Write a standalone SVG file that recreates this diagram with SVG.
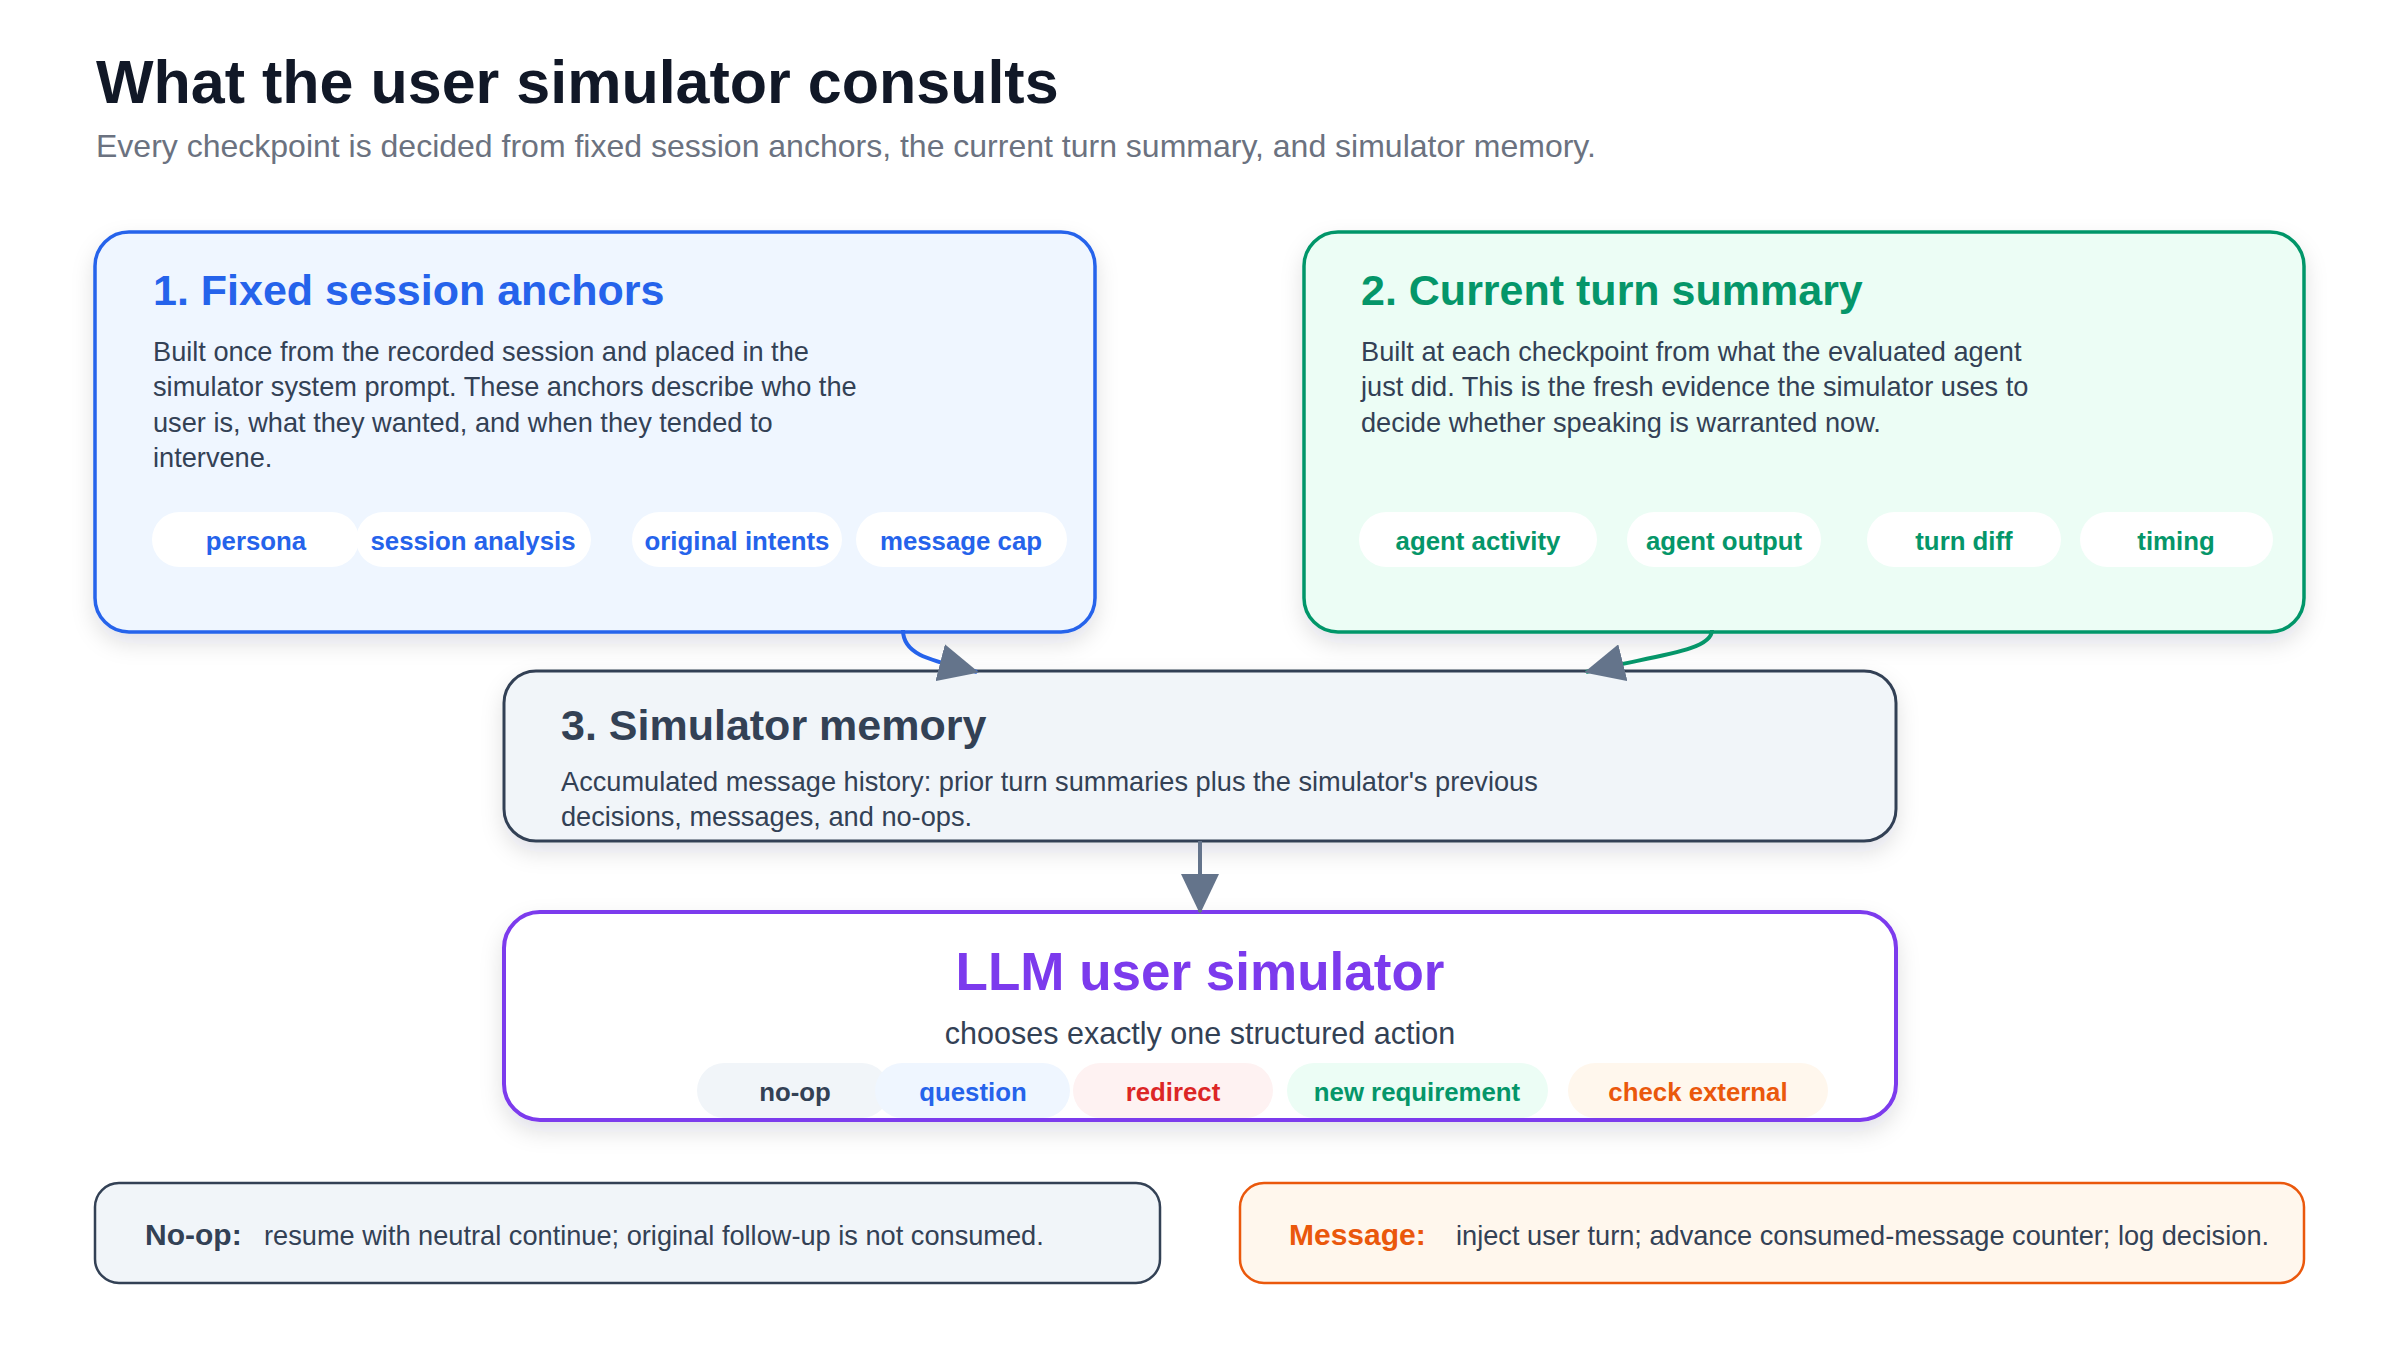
<svg xmlns="http://www.w3.org/2000/svg" width="2400" height="1360" viewBox="0 0 2400 1360">
  <defs>
    <filter id="shadow" x="-10%" y="-20%" width="120%" height="150%">
      <feDropShadow dx="0" dy="10" stdDeviation="11" flood-color="#0f172a" flood-opacity="0.12"/>
    </filter>
    <marker id="arrow" markerUnits="userSpaceOnUse" markerWidth="40" markerHeight="38" refX="38" refY="19" orient="auto">
      <path d="M0,0 L40,19 L0,38 Z" fill="#64748b"/>
    </marker>
    <style>
      text { font-family: "Liberation Sans", Arial, Helvetica, sans-serif; }
      .title { font-size: 61px; font-weight: 700; fill: #111827; }
      .subtitle { font-size: 32px; fill: #6b7280; }
      .h { font-size: 43px; font-weight: 700; }
      .body { font-size: 27.2px; fill: #334155; }
      .pill { fill: #ffffff; }
      .ptxt { font-size: 25.8px; font-weight: 700; text-anchor: middle; }
      .blue { fill: #2563eb; }
      .green { fill: #059669; }
      .slate { fill: #334155; }
      .purple { fill: #7c3aed; }
      .red { fill: #dc2626; }
      .orange { fill: #ea580c; }
      .lbl { font-size: 30px; font-weight: 700; }
      .conn { fill: none; stroke-width: 4; }
    </style>
  </defs>

  <rect width="2400" height="1360" fill="#ffffff"/>

  <g id="header">
    <text class="title" x="96" y="103">What the user simulator consults</text>
    <text class="subtitle" x="96" y="157">Every checkpoint is decided from fixed session anchors, the current turn summary, and simulator memory.</text>
  </g>

  <g id="node-anchors">
    <rect x="95" y="232" width="1000" height="400" rx="34" fill="#eff6ff" stroke="#2563eb" stroke-width="3.5" filter="url(#shadow)"/>
    <text class="h blue" x="153" y="305">1. Fixed session anchors</text>
    <text class="body" x="153" y="360.5">Built once from the recorded session and placed in the</text>
    <text class="body" x="153" y="396">simulator system prompt. These anchors describe who the</text>
    <text class="body" x="153" y="431.5">user is, what they wanted, and when they tended to</text>
    <text class="body" x="153" y="467">intervene.</text>
    <rect class="pill" x="152" y="512" width="207" height="55" rx="27.5"/>
    <text class="ptxt blue" x="256" y="549.5">persona</text>
    <rect class="pill" x="356" y="512" width="235" height="55" rx="27.5"/>
    <text class="ptxt blue" x="473" y="549.5">session analysis</text>
    <rect class="pill" x="632" y="512" width="210" height="55" rx="27.5"/>
    <text class="ptxt blue" x="737" y="549.5">original intents</text>
    <rect class="pill" x="856" y="512" width="211" height="55" rx="27.5"/>
    <text class="ptxt blue" x="961" y="549.5">message cap</text>
  </g>

  <g id="node-turn-summary">
    <rect x="1304" y="232" width="1000" height="400" rx="34" fill="#ecfdf5" stroke="#059669" stroke-width="3.5" filter="url(#shadow)"/>
    <text class="h green" x="1361" y="305">2. Current turn summary</text>
    <text class="body" x="1361" y="360.5">Built at each checkpoint from what the evaluated agent</text>
    <text class="body" x="1361" y="396">just did. This is the fresh evidence the simulator uses to</text>
    <text class="body" x="1361" y="431.5">decide whether speaking is warranted now.</text>
    <rect class="pill" x="1359" y="512" width="238" height="55" rx="27.5"/>
    <text class="ptxt green" x="1478" y="549.5">agent activity</text>
    <rect class="pill" x="1627" y="512" width="194" height="55" rx="27.5"/>
    <text class="ptxt green" x="1724" y="549.5">agent output</text>
    <rect class="pill" x="1867" y="512" width="194" height="55" rx="27.5"/>
    <text class="ptxt green" x="1964" y="549.5">turn diff</text>
    <rect class="pill" x="2080" y="512" width="193" height="55" rx="27.5"/>
    <text class="ptxt green" x="2176" y="549.5">timing</text>
  </g>

  <g id="node-memory">
    <rect x="504" y="671" width="1392" height="170" rx="32" fill="#f1f5f9" stroke="#334155" stroke-width="3" filter="url(#shadow)"/>
    <text class="h slate" x="561" y="740">3. Simulator memory</text>
    <text class="body" x="561" y="790.5">Accumulated message history: prior turn summaries plus the simulator's previous</text>
    <text class="body" x="561" y="825.5">decisions, messages, and no-ops.</text>
  </g>

  <g id="node-llm">
    <rect x="504" y="912" width="1392" height="208" rx="36" fill="#ffffff" stroke="#7c3aed" stroke-width="4" filter="url(#shadow)"/>
    <text x="1200" y="990" font-size="53" font-weight="700" text-anchor="middle" class="purple">LLM user simulator</text>
    <text x="1200" y="1043.5" font-size="30.5" text-anchor="middle" class="slate">chooses exactly one structured action</text>
    <rect x="697" y="1063" width="192" height="55" rx="27.5" fill="#f1f5f9"/>
    <text class="ptxt slate" x="795" y="1100.5">no-op</text>
    <rect x="875" y="1063" width="195" height="55" rx="27.5" fill="#eff6ff"/>
    <text class="ptxt blue" x="973" y="1100.5">question</text>
    <rect x="1073" y="1063" width="200" height="55" rx="27.5" fill="#fef2f2"/>
    <text class="ptxt red" x="1173" y="1100.5">redirect</text>
    <rect x="1287" y="1063" width="261" height="55" rx="27.5" fill="#ecfdf5"/>
    <text class="ptxt green" x="1417" y="1100.5">new requirement</text>
    <rect x="1568" y="1063" width="260" height="55" rx="27.5" fill="#fff7ed"/>
    <text class="ptxt orange" x="1698" y="1100.5">check external</text>
  </g>

  <g id="node-noop-outcome">
    <rect x="95" y="1183" width="1065" height="100" rx="24" fill="#f1f5f9" stroke="#334155" stroke-width="2.5"/>
    <text class="lbl slate" x="145" y="1244.5">No-op:</text>
    <text class="body" x="264" y="1244.5">resume with neutral continue; original follow-up is not consumed.</text>
  </g>

  <g id="node-message-outcome">
    <rect x="1240" y="1183" width="1064" height="100" rx="24" fill="#fff7ed" stroke="#ea580c" stroke-width="2.5"/>
    <text class="lbl orange" x="1289" y="1244.5">Message:</text>
    <text class="body" x="1456" y="1244.5">inject user turn; advance consumed-message counter; log decision.</text>
  </g>

  <g id="connectors">
    <path class="conn" d="M903,630 C903,655 930,660 977,672" stroke="#2563eb" marker-end="url(#arrow)"/>
    <path class="conn" d="M1712,630 C1712,652 1650,656 1586,672" stroke="#059669" marker-end="url(#arrow)"/>
    <path class="conn" d="M1200,841 L1200,912" stroke="#64748b" marker-end="url(#arrow)"/>
  </g>
</svg>
